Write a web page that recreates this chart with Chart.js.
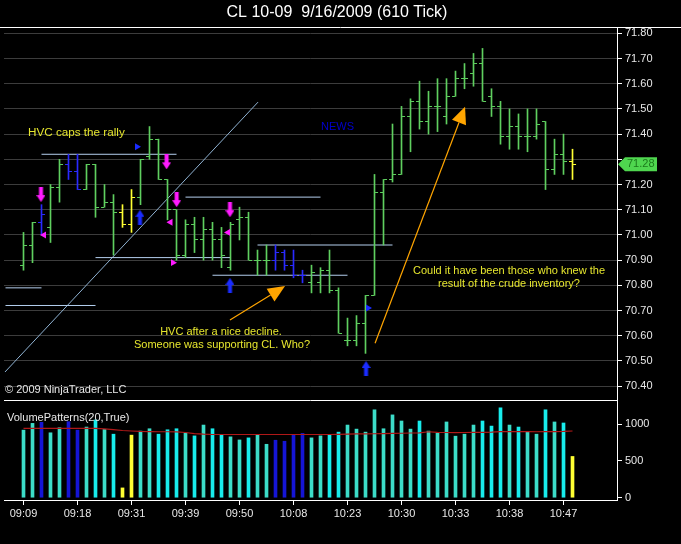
<!DOCTYPE html>
<html>
<head>
<meta charset="utf-8">
<script src="https://cdn.jsdelivr.net/npm/chart.js@4.4.1/dist/chart.umd.min.js"></script>
<style>
body { margin: 0; background: #000; }
#wrap { position: relative; width: 681px; height: 544px; background: #000; }
#priceChart { position: absolute; left: 0; top: 0; }
#volChart { position: absolute; left: 0; top: 400px; }
</style>
</head>
<body>
<div id="wrap">
  <canvas id="priceChart" width="681" height="400"></canvas>
  <canvas id="volChart" width="681" height="144"></canvas>
</div>
<script>
// 610 tick bars, CL 10-09, 9/16/2009
const opens  = [70.88,70.96,71.05,71.03,71.19,71.28,71.25,71.18,71.28,71.11,71.13,71.09,71.04,71.15,71.31,71.38,71.22,71.10,70.92,71.04,70.98,71.02,70.98,70.87,71.06,71.07,70.90,70.90,70.90,70.93,70.88,70.84,70.81,70.81,70.86,70.78,70.58,70.58,70.65,70.76,71.17,71.22,71.24,71.47,71.53,71.45,71.51,71.47,71.55,71.62,71.64,71.68,71.55,71.51,71.39,71.43,71.39,71.39,71.45,71.26,71.32,71.29];
const highs  = [71.01,71.05,71.12,71.20,71.30,71.32,71.32,71.28,71.28,71.20,71.16,71.12,71.18,71.30,71.43,71.38,71.22,71.10,71.06,71.07,71.07,71.05,71.03,71.05,71.11,71.09,70.94,70.96,70.96,70.94,70.94,70.86,70.88,70.87,70.94,70.79,70.67,70.68,70.76,71.24,71.22,71.44,71.51,71.54,71.61,71.57,71.62,71.62,71.65,71.68,71.72,71.74,71.58,71.53,71.50,71.48,71.50,71.50,71.45,71.38,71.40,71.34];
const lows   = [70.86,70.89,71.00,70.97,71.13,71.22,71.18,71.18,71.07,71.11,70.92,71.03,71.01,71.12,71.30,71.22,71.06,70.90,70.91,70.93,70.90,70.90,70.87,70.86,70.98,70.90,70.84,70.84,70.86,70.86,70.83,70.81,70.77,70.77,70.77,70.61,70.56,70.56,70.53,70.76,70.96,71.21,71.24,71.33,71.42,71.40,71.41,71.44,71.55,71.58,71.59,71.53,71.47,71.36,71.34,71.34,71.33,71.38,71.18,71.24,71.24,71.22];
const closes = [70.96,71.05,71.08,71.19,71.28,71.25,71.18,71.28,71.11,71.13,71.09,71.04,71.15,71.30,71.38,71.22,71.10,70.92,71.04,70.98,71.02,70.98,70.92,71.04,71.07,70.90,70.90,70.90,70.93,70.88,70.84,70.84,70.85,70.86,70.78,70.61,70.58,70.65,70.76,71.17,71.22,71.24,71.47,71.53,71.45,71.51,71.51,71.55,71.62,71.62,71.68,71.53,71.51,71.39,71.43,71.39,71.39,71.44,71.26,71.32,71.29,71.28];
// g = normal, b = blue bar, y = yellow bar
const barKinds = ('ggbggbbgggg' + 'yy' + 'ggggggggggggggg' + 'bbbb' + 'gggggggggggggggggggggggggggggg'.slice(1) + 'y').split('');

const volumes = [917,1009,1023,881,950,1032,917,959,1055,927,862,133,849,904,936,862,922,936,881,839,986,936,849,826,784,812,849,725,780,766,849,872,812,839,858,890,986,931,890,1193,936,1124,1041,931,1041,904,876,1028,835,862,986,1041,972,1220,986,959,890,862,1193,1028,1014,560];
const volAvg = [940,940,940,940,940,940,940,940,940,935,925,912,905,900,898,895,895,893,885,870,862,858,858,858,858,858,858,858,858,858,858,858,858,858,858,860,862,865,866,868,870,872,875,878,880,895,888,885,884,885,886,888,890,896,898,898,896,895,897,898,900,905];

const tickIdx = [0,6,12,18,24,30,36,42,48,54,60];
const timeLabels = ['09:09','09:18','09:31','09:39','09:50','10:08','10:23','10:30','10:33','10:38','10:47'];
const priceTicks = [70.4,70.5,70.6,70.7,70.8,70.9,71.0,71.1,71.2,71.3,71.4,71.5,71.6,71.7,71.8];
const volTicks = [0,500,1000];

// drawing objects, in bar index / price units
const hvcLevels = [[2,17,71.32],[18,33,71.15],[8,23,70.91],[26,41,70.96],[21,36,70.84],[-2,2,70.79],[-2,8,70.72]];
const trendLine = [[-2.06,70.456],[26.06,71.527]];
const downArrows = [[1.94,71.16],[15.9,71.29],[17.02,71.14],[22.94,71.10]];
const upArrows = [[12.94,71.07],[22.94,70.80],[38.06,70.47]];
const leftTris = [[2.28,71.00],[16.33,71.05],[22.72,71.01]];
const rightTrisPink = [[16.61,70.89]];
const rightTrisBlue = [[12.61,71.35],[38.28,70.71]];
const orangeArrows = [[22.94,70.662,29.06,70.797],[39.06,70.570,49.06,71.509]];

const xMin = -2.1667, xMax = 65.944;
const FONT = 'Arial, "Liberation Sans", sans-serif';
Chart.defaults.font.family = FONT;
Chart.defaults.font.size = 11;

const kindColor = { g: '#5fcf5f', b: '#2a2aff', y: '#ffff33' };
const barColors = barKinds.map(k => kindColor[k]);
const volColors = barKinds.map((k, i) => k === 'b' ? '#1515d5' : k === 'y' ? '#ffff33' : (closes[i] >= opens[i] ? '#3cdcc8' : '#18ecec'));

function tickImg(color, side) {
    const c = document.createElement('canvas');
    c.width = 9; c.height = 1;
    const g = c.getContext('2d');
    g.fillStyle = color;
    if (side === 'left') g.fillRect(1, 0, 3, 1); else g.fillRect(5, 0, 3, 1);
    return c;
}
function arrowImg(color, dir) {
    const c = document.createElement('canvas');
    c.width = 9; c.height = 15;
    const g = c.getContext('2d');
    g.fillStyle = color;
    g.save();
    if (dir === 'up') { g.translate(0, 15); g.scale(1, -1); }
    g.fillRect(2.5, 0, 4, 8);
    g.beginPath(); g.moveTo(0, 8); g.lineTo(9, 8); g.lineTo(4.5, 15); g.closePath(); g.fill();
    g.restore();
    return c;
}
const openImgs = {}, closeImgs = {};
Object.keys(kindColor).forEach(k => { openImgs[k] = tickImg(kindColor[k], 'left'); closeImgs[k] = tickImg(kindColor[k], 'right'); });

const pts = arr => arr.map(p => ({ x: p[0], y: p[1] }));
const levelData = [];
hvcLevels.forEach(l => { levelData.push({ x: l[0], y: l[2] }, { x: l[1], y: l[2] }, { x: l[1], y: null }); });

// keep the plot area exactly where the axes say (no label half-height padding)
const fitRight = s => { s.width = 64; s.paddingTop = 0; s.paddingBottom = 0; };

function drawArrow(ctx, x1, y1, x2, y2) {
    const ang = Math.atan2(y2 - y1, x2 - x1), len = 17, hw = 7.5;
    const bx = x2 - Math.cos(ang) * len, by = y2 - Math.sin(ang) * len;
    ctx.strokeStyle = '#ffa500'; ctx.lineWidth = 1.2;
    ctx.beginPath(); ctx.moveTo(x1, y1); ctx.lineTo(bx, by); ctx.stroke();
    ctx.fillStyle = '#ffa500';
    ctx.beginPath(); ctx.moveTo(x2, y2);
    ctx.lineTo(bx + Math.sin(ang) * hw, by - Math.cos(ang) * hw);
    ctx.lineTo(bx - Math.sin(ang) * hw, by + Math.cos(ang) * hw);
    ctx.closePath(); ctx.fill();
}

const pricePlugin = {
    id: 'priceExtras',
    afterDraw(chart) {
        const ctx = chart.ctx, xs = chart.scales.x, ys = chart.scales.y, a = chart.chartArea;
        ctx.save();
        // title and panel frame
        ctx.fillStyle = '#fff';
        ctx.font = '16px ' + FONT;
        ctx.textAlign = 'center'; ctx.textBaseline = 'middle';
        ctx.fillText('CL 10-09  9/16/2009 (610 Tick)', 337, 13);
        ctx.strokeStyle = '#fff'; ctx.lineWidth = 1;
        ctx.beginPath(); ctx.moveTo(0, a.top + 0.5); ctx.lineTo(681, a.top + 0.5); ctx.stroke();
        // orange arrows
        orangeArrows.forEach(o => drawArrow(ctx, xs.getPixelForValue(o[0]), ys.getPixelForValue(o[1]), xs.getPixelForValue(o[2]), ys.getPixelForValue(o[3])));
        // notes
        ctx.fillStyle = '#e6e62e';
        ctx.textAlign = 'left';
        ctx.font = '11.7px ' + FONT;
        ctx.fillText('HVC caps the rally', 28, 133);
        ctx.font = '11px ' + FONT;
        ctx.textAlign = 'center';
        ctx.fillText('HVC after a nice decline.', 221, 332);
        ctx.fillText('Someone was supporting CL. Who?', 222, 345);
        ctx.fillText('Could it have been those who knew the', 509, 271);
        ctx.fillText('result of the crude inventory?', 509, 284);
        ctx.textAlign = 'left';
        ctx.fillStyle = '#0000cc';
        ctx.fillText('NEWS', 321, 127);
        ctx.fillStyle = '#e8e8e8';
        ctx.fillText('\u00a9 2009 NinjaTrader, LLC', 5, 390);
        // last price marker
        const last = closes[closes.length - 1];
        const yv = ys.getPixelForValue(last);
        ctx.fillStyle = '#4fd64f';
        ctx.beginPath();
        ctx.moveTo(618, yv); ctx.lineTo(625, yv - 7); ctx.lineTo(657, yv - 7); ctx.lineTo(657, yv + 7); ctx.lineTo(625, yv + 7);
        ctx.closePath(); ctx.fill();
        ctx.fillStyle = '#1b7a1b';
        ctx.fillText(last.toFixed(2), 627, yv);
        ctx.restore();
    }
};

new Chart(document.getElementById('priceChart'), {
    type: 'bar',
    data: {
        datasets: [
            {
                type: 'bar', order: 5,
                data: highs.map((h, i) => ({ x: i, y: [lows[i], h] })),
                backgroundColor: barColors, barThickness: 1, borderWidth: 0, grouped: false
            },
            {
                type: 'scatter', order: 4,
                data: opens.map((v, i) => ({ x: i, y: v })),
                pointStyle: barKinds.map(k => openImgs[k]), pointRadius: 3
            },
            {
                type: 'scatter', order: 4,
                data: closes.map((v, i) => ({ x: i, y: v })),
                pointStyle: barKinds.map(k => closeImgs[k]), pointRadius: 3
            },
            {
                type: 'line', order: 6, data: levelData, borderColor: '#b4cfee', borderWidth: 1,
                pointRadius: 0, spanGaps: false
            },
            {
                type: 'line', order: 6, data: pts(trendLine), borderColor: '#8fb2d2', borderWidth: 1, pointRadius: 0
            },
            {
                type: 'scatter', order: 1, data: pts(downArrows), pointStyle: arrowImg('#ff1aff', 'down'), pointRadius: 5
            },
            {
                type: 'scatter', order: 1, data: pts(upArrows), pointStyle: arrowImg('#1a2cff', 'up'), pointRadius: 5
            },
            {
                type: 'scatter', order: 1, data: pts(leftTris), pointStyle: 'triangle', rotation: -90,
                pointRadius: 4, backgroundColor: '#ff1aff', borderWidth: 0
            },
            {
                type: 'scatter', order: 1, data: pts(rightTrisPink), pointStyle: 'triangle', rotation: 90,
                pointRadius: 4, backgroundColor: '#ff1aff', borderWidth: 0
            },
            {
                type: 'scatter', order: 1, data: pts(rightTrisBlue), pointStyle: 'triangle', rotation: 90,
                pointRadius: 4, backgroundColor: '#1a2cff', borderWidth: 0
            }
        ]
    },
    options: {
        responsive: false, animation: false, devicePixelRatio: 1,
        layout: { padding: { left: 4, top: 27, right: 0, bottom: 0 }, autoPadding: false },
        plugins: {
            legend: { display: false },
            tooltip: { enabled: false },
            title: { display: false }
        },
        scales: {
            x: { type: 'linear', display: false, min: xMin, max: xMax, offset: false, grid: { offset: false } },
            y: {
                type: 'linear', position: 'right', min: 70.345, max: 71.825,
                afterBuildTicks: s => { s.ticks = priceTicks.map(v => ({ value: v })); },
                afterFit: fitRight,
                grid: { color: '#3c3c3c', tickColor: '#fff', tickLength: 5 },
                border: { color: '#fff' },
                ticks: {
                    color: '#e8e8e8', padding: 3,
                    callback: v => Math.abs(v - 71.3) < 1e-6 ? '' : v.toFixed(2)
                }
            }
        }
    },
    plugins: [pricePlugin]
});

const volPlugin = {
    id: 'volExtras',
    afterDraw(chart) {
        const ctx = chart.ctx, a = chart.chartArea;
        ctx.save();
        ctx.strokeStyle = '#fff'; ctx.lineWidth = 1;
        ctx.beginPath(); ctx.moveTo(a.left, 0.5); ctx.lineTo(a.right, 0.5); ctx.stroke();
        ctx.font = '11px ' + FONT;
        ctx.textBaseline = 'middle';
        ctx.fillStyle = '#e8e8e8';
        ctx.fillText('VolumePatterns(20,True)', 7, 18);
        ctx.restore();
    }
};

new Chart(document.getElementById('volChart'), {
    type: 'bar',
    data: {
        datasets: [
            {
                type: 'line', order: 1, data: volAvg.map((v, i) => ({ x: i, y: v })),
                borderColor: '#b01818', borderWidth: 1.2, pointRadius: 0
            },
            {
                type: 'bar', order: 2, data: volumes.map((v, i) => ({ x: i, y: v })),
                backgroundColor: volColors, barThickness: 3, borderWidth: 0, grouped: false
            }
        ]
    },
    options: {
        responsive: false, animation: false, devicePixelRatio: 1,
        layout: { padding: { left: 4, top: 0, right: 0, bottom: 0 }, autoPadding: false },
        plugins: { legend: { display: false }, tooltip: { enabled: false } },
        scales: {
            x: {
                type: 'linear', min: xMin, max: xMax, offset: false,
                afterBuildTicks: s => { s.ticks = tickIdx.map(v => ({ value: v })); },
                afterFit: s => { s.height = 44; },
                grid: { offset: false, drawOnChartArea: false, tickColor: '#fff', tickLength: 5 },
                border: { color: '#fff' },
                ticks: { color: '#e8e8e8', padding: 2, maxRotation: 0, autoSkip: false,
                    callback: (v, i) => timeLabels[i] }
            },
            y: {
                type: 'linear', position: 'right', min: -31, max: 1326,
                afterBuildTicks: s => { s.ticks = volTicks.map(v => ({ value: v })); },
                afterFit: fitRight,
                grid: { drawOnChartArea: false, tickColor: '#fff', tickLength: 5 },
                border: { color: '#fff' },
                ticks: { color: '#e8e8e8', padding: 3, callback: v => String(v) }
            }
        }
    },
    plugins: [volPlugin]
});
</script>
</body>
</html>
